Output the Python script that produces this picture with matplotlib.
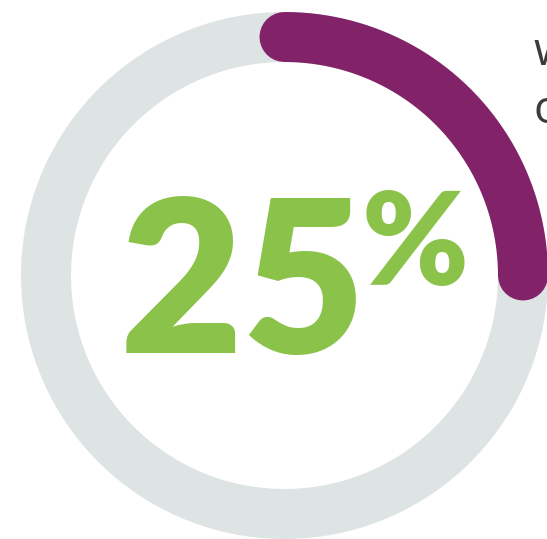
import numpy as np
import matplotlib
matplotlib.use("Agg")
import matplotlib.pyplot as plt

# Progress value shown in the ring
share_value = 25
share_total = 100
number_label = "25"
unit_label = "%"
side_lines = ["w", "o"]

track_color = "#dee3e3"
arc_color = "#822369"
number_color = "#8bc34a"
text_color = "#3b3b3b"

W, H, DPI = 547, 539, 100
fig = plt.figure(figsize=(W / DPI, H / DPI), dpi=DPI)
ax = fig.add_axes([0, 0, 1, 1])
ax.set_xlim(0, W)
ax.set_ylim(H, 0)
ax.set_aspect("equal")
ax.axis("off")

cx, cy, r = 284.5, 275.5, 238.5
ring_px = 50
lw = ring_px * 72 / DPI

# full grey track
t = np.linspace(0, 2 * np.pi, 721)
ax.plot(cx + r * np.cos(t), cy - r * np.sin(t), color=track_color, lw=lw,
        solid_capstyle="butt", zorder=1)

# progress arc, clockwise from 12 o'clock
frac = share_value / share_total
t = np.linspace(np.pi / 2, np.pi / 2 - 2 * np.pi * frac, 300)
ax.plot(cx + r * np.cos(t), cy - r * np.sin(t), color=arc_color, lw=lw,
        solid_capstyle="round", zorder=2)

# big percentage figure
ax.text(120, 353, number_label, fontsize=153, family="Lato", weight="heavy",
        color=number_color, ha="left", va="baseline", zorder=3)
ax.text(362, 285, unit_label, fontsize=92, family="Lato", weight="heavy",
        color=number_color, ha="left", va="baseline", zorder=3)

# side caption (runs off the right edge)
for i, line in enumerate(side_lines):
    ax.text(533, 65 + 58 * i, line, fontsize=33, family="Open Sans",
            color=text_color, ha="left", va="baseline", zorder=3)

fig.savefig("out.png", dpi=DPI)
